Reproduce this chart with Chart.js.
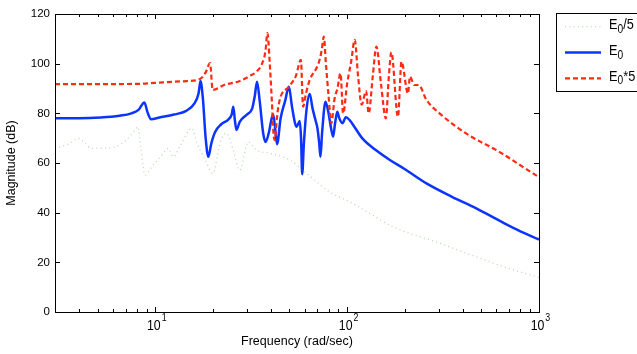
<!DOCTYPE html>
<html>
<head>
<meta charset="utf-8">
<script src="https://cdn.jsdelivr.net/npm/chart.js@4"></script>
<style>
  html, body { margin: 0; padding: 0; background: #fff; }
  #wrap { width: 637px; height: 354px; }
</style>
</head>
<body>
<div id="wrap"><canvas id="bode" width="637" height="354"></canvas></div>
<script>
// magnitude response for three gain settings (rad/sec, dB)
const freqE0 = [3, 4, 5.2, 6.5, 7.5, 8.2, 8.77, 9.1, 9.5, 10.5, 12.5, 14.5, 16, 16.8, 17.2, 17.7, 18.3, 18.9, 19.6, 20.5,
  22, 24, 25, 25.5, 26, 26.5, 27.5, 30, 32, 33, 33.9, 35, 36.5, 37.6, 39, 41.1, 42, 43.1, 45, 47.5,
  49.7, 51.5, 53.5, 54.5, 56.6, 57.5, 58.3, 59.5, 61.5, 63.8, 66, 68.5, 70, 71.5, 72.6, 74, 77.1, 80, 82, 84.5,
  86.5, 88.8, 91, 94.5, 98.4, 103, 109, 120, 141, 167, 200, 259, 350, 471, 650, 800, 1000];
const magE0 = [78, 78, 78.3, 79, 80, 81.5, 84.4, 80.5, 77.6, 78.3, 79.5, 81, 84, 88, 93, 86, 70, 62.5, 68, 72.5,
  75.5, 77.5, 79.5, 82.7, 77, 73.3, 76.5, 79.5, 82, 87, 92.7, 85, 72, 68.5, 72, 79.6, 75, 67.6, 78, 85,
  90.7, 83, 76, 74.6, 76.9, 70, 55.5, 68, 82, 87.8, 82, 77, 74, 68, 62.5, 72, 84.7, 80, 75, 70.6,
  76, 80.6, 78, 76, 78.4, 77.3, 74.6, 69.9, 65.2, 61.2, 57.5, 51.8, 46.5, 41.7, 36, 32.5, 29.2];

const freqE0x5 = [3, 6, 8.3, 11, 14.6, 17.1, 18.3, 19.3, 19.9, 23, 27.6, 31, 33.7, 36, 37.5, 38.4, 39.5, 40.5, 41.3, 42,
  43, 44.5, 49.7, 54, 57.4, 58.9, 61, 63.8, 71, 73.5, 75.6, 77.5, 80, 82.7, 86, 89, 92.3, 95.3, 100, 105,
  109.5, 114, 119, 125.5, 129.5, 136, 142, 150, 159, 165, 170, 184, 192, 207.5, 212.5, 224, 236, 259, 303, 417,
  621, 930, 1000];
const magE0x5 = [91.8, 91.8, 91.9, 92.5, 93, 93.8, 96.5, 100.2, 89.4, 91.5, 93, 95, 96.8, 100, 105, 112.3, 100, 85, 72, 69.2,
  78, 85.4, 90.7, 95, 101.5, 82.7, 88, 93.4, 100.2, 105, 110.9, 100, 87, 76, 86, 90, 96.1, 80, 92, 101,
  109.6, 95, 83.5, 89, 80, 95, 106.9, 92, 78, 95, 104.6, 78.6, 100.8, 88, 94.8, 91.4, 91.4, 85.4, 80, 71.9,
  64.5, 55.8, 54.3];

const freqE0d5 = [3, 3.5, 4, 4.3, 4.66, 5.5, 6.17, 7, 7.84, 8.1, 8.4, 8.84, 9.5, 10.5, 11.7, 12.4, 13.5, 15.5, 16.5, 18.2,
  20, 21.7, 23.5, 25.5, 27.6, 30.5, 33.7, 39.5, 50.3, 61.4, 81, 107, 131, 173, 291, 470, 700, 1000];
const magE0d5 = [65.9, 67.5, 69.9, 68, 65.9, 66, 66.5, 69, 73.3, 74.6, 66, 55.1, 58, 62, 65.9, 62.5, 67, 74, 68, 61.2,
  55.8, 67.9, 72, 65, 57.1, 68.5, 65.2, 63.9, 61.2, 55.8, 48.4, 43.7, 39.7, 34.3, 28.2, 22.2, 17.5, 13.9];

// axis ticks
const yTicks = [0, 20, 40, 60, 80, 100, 120];
const xDecades = [10, 100, 1000];
const xDecadeExp = ['1', '2', '3'];

// legend text: letter, subscript, tail
const legendLabels = [['E', '0', '/5'], ['E', '0', ''], ['E', '0', '*5']];

const FONT = '"Liberation Sans", Arial, Helvetica, sans-serif';
Chart.defaults.font.family = FONT;
Chart.defaults.color = '#000';

const toPoints = (xs, ys) => xs.map((f, i) => ({ x: f, y: ys[i] }));

// minor log ticks 4..9, 20..90, 200..900
const xMinor = [];
[1, 10, 100].forEach(d => {
  for (let m = 2; m <= 9; m++) if (d * m > 3) xMinor.push(d * m);
});

function drawCondensed(ctx, text, x, y, sx) {
  ctx.save();
  ctx.translate(x, y);
  ctx.scale(sx, 1);
  ctx.textAlign = 'left';
  ctx.fillText(text, 0, 0);
  ctx.restore();
}

// box, inward ticks, decade labels and legend
const boxAxes = {
  id: 'boxAxes',
  afterDraw(chart) {
    const { ctx, chartArea: a, scales: { x, y } } = chart;
    ctx.save();
    ctx.strokeStyle = '#000';
    ctx.lineWidth = 1;
    ctx.setLineDash([]);
    ctx.strokeRect(Math.round(a.left) + 0.5, Math.round(a.top) + 0.5,
      Math.round(a.right - a.left), Math.round(a.bottom - a.top));

    ctx.beginPath();
    yTicks.forEach(v => {
      const py = Math.round(y.getPixelForValue(v)) + 0.5;
      ctx.moveTo(a.left, py); ctx.lineTo(a.left + 5, py);
      ctx.moveTo(a.right, py); ctx.lineTo(a.right - 5, py);
    });
    xMinor.forEach(v => {
      const px = Math.round(x.getPixelForValue(v)) + 0.5;
      ctx.moveTo(px, a.bottom); ctx.lineTo(px, a.bottom - 3);
      ctx.moveTo(px, a.top); ctx.lineTo(px, a.top + 3);
    });
    xDecades.forEach(v => {
      const px = Math.round(x.getPixelForValue(v)) + 0.5;
      ctx.moveTo(px, a.bottom); ctx.lineTo(px, a.bottom - 5);
      ctx.moveTo(px, a.top); ctx.lineTo(px, a.top + 5);
    });
    ctx.stroke();

    // 10^n labels
    ctx.fillStyle = '#000';
    ctx.textBaseline = 'alphabetic';
    xDecades.forEach((v, i) => {
      const px = x.getPixelForValue(v);
      ctx.font = '14px ' + FONT;
      const w = ctx.measureText('10').width * 0.88;
      drawCondensed(ctx, '10', px - 1.5 - w / 2, a.bottom + 17.5, 0.88);
      ctx.font = '10px ' + FONT;
      drawCondensed(ctx, xDecadeExp[i], px - 1.5 + w / 2 + 1, a.bottom + 9, 0.88);
    });

    // legend
    ctx.strokeRect(556.5, 13.5, 100, 78);
    const rows = [26.7, 52.5, 78.3];
    const order = [2, 1, 0];
    order.forEach((di, r) => {
      const ds = chart.data.datasets[di];
      ctx.beginPath();
      ctx.strokeStyle = ds.borderColor;
      ctx.lineWidth = ds.borderWidth;
      ctx.setLineDash(ds.borderDash || []);
      ctx.moveTo(565, rows[r]);
      ctx.lineTo(601, rows[r]);
      ctx.stroke();

      const [letter, sub, tail] = legendLabels[r];
      const base = rows[r] + 2.5;
      let tx = 609;
      ctx.font = '15px ' + FONT;
      drawCondensed(ctx, letter, tx, base, 0.85);
      tx += ctx.measureText(letter).width * 0.85;
      ctx.font = '12px ' + FONT;
      drawCondensed(ctx, sub, tx, base + 3.5, 0.85);
      tx += ctx.measureText(sub).width * 0.85;
      ctx.font = '15px ' + FONT;
      drawCondensed(ctx, tail, tx, base, 0.85);
    });
    ctx.restore();
  }
};

new Chart(document.getElementById('bode'), {
  type: 'line',
  data: {
    datasets: [
      {
        label: 'E0*5',
        data: toPoints(freqE0x5, magE0x5),
        borderColor: '#ff2a12',
        borderWidth: 2.2,
        borderDash: [5, 3],
        order: 0
      },
      {
        label: 'E0',
        data: toPoints(freqE0, magE0),
        borderColor: '#0c34ff',
        borderWidth: 2.5,
        order: 1
      },
      {
        label: 'E0/5',
        data: toPoints(freqE0d5, magE0d5),
        borderColor: 'rgba(130,200,120,0.6)',
        borderWidth: 1.3,
        borderDash: [1, 3.3],
        order: 2
      }
    ]
  },
  options: {
    responsive: false,
    animation: false,
    devicePixelRatio: 1,
    elements: { point: { radius: 0 }, line: { cubicInterpolationMode: 'monotone' } },
    layout: { padding: { top: 14, right: 98, bottom: 0, left: 0 } },
    plugins: { legend: { display: false }, tooltip: { enabled: false } },
    scales: {
      x: {
        type: 'logarithmic',
        min: 3,
        max: 1000,
        grid: { display: false, drawTicks: false },
        border: { display: false },
        ticks: { display: false },
        title: { display: true, text: 'Frequency (rad/sec)', font: { size: 12.5 }, padding: { top: 0, bottom: 5 } },
        afterFit: s => { s.height = 42; }
      },
      y: {
        min: 0,
        max: 120,
        grid: { display: false, drawTicks: false },
        border: { display: false },
        ticks: { stepSize: 20, padding: 5, font: { size: 11.5 } },
        title: { display: true, text: 'Magnitude (dB)', font: { size: 12.5 }, padding: { top: 4, bottom: 0 } },
        afterFit: s => { s.width = 55; }
      }
    }
  },
  plugins: [boxAxes]
});
</script>
</body>
</html>
